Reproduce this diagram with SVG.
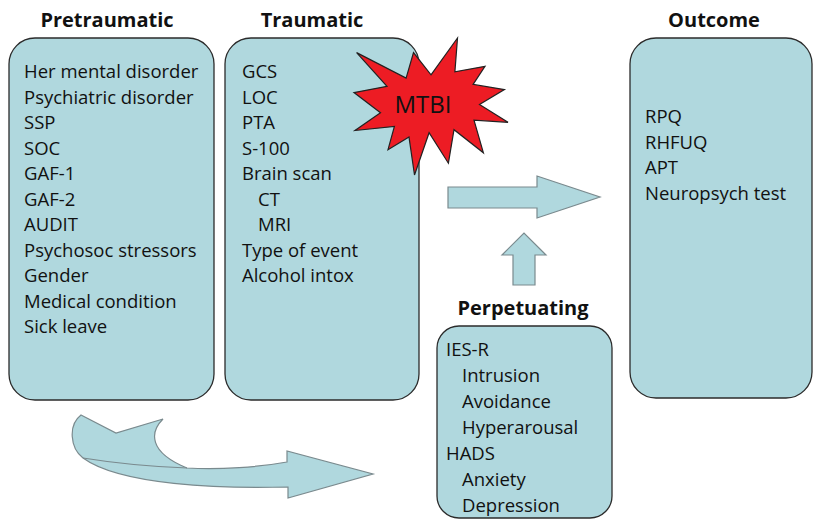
<svg xmlns="http://www.w3.org/2000/svg" width="815" height="519" viewBox="0 0 815 519">
<style>
.box{fill:#b0d8de;stroke:#2b2b2b;stroke-width:1.3}
.arrow{fill:#b0d8de;stroke:#7a8a8e;stroke-width:1.2;stroke-linejoin:miter}
.t{font-family:"Open Sans","Liberation Sans",sans-serif;font-size:18.5px;fill:#111}
.h{font-family:"Open Sans","Liberation Sans",sans-serif;font-size:20px;font-weight:bold;fill:#111;text-anchor:middle}
</style>
<rect width="815" height="519" fill="#fff"/>
<g id="pretraumatic">
<text class="h" x="107" y="27">Pretraumatic</text>
<rect class="box" x="9" y="38" width="205" height="362" rx="26"/>
<text class="t" x="24" y="78">Her mental disorder</text>
<text class="t" x="24" y="103.5">Psychiatric disorder</text>
<text class="t" x="24" y="129">SSP</text>
<text class="t" x="24" y="154.5">SOC</text>
<text class="t" x="24" y="180">GAF-1</text>
<text class="t" x="24" y="205.5">GAF-2</text>
<text class="t" x="24" y="231">AUDIT</text>
<text class="t" x="24" y="256.5">Psychosoc stressors</text>
<text class="t" x="24" y="282">Gender</text>
<text class="t" x="24" y="307.5">Medical condition</text>
<text class="t" x="24" y="333">Sick leave</text>
</g>
<g id="traumatic">
<text class="h" x="312" y="27">Traumatic</text>
<rect class="box" x="225" y="38" width="194" height="362" rx="26"/>
<text class="t" x="242" y="78">GCS</text>
<text class="t" x="242" y="103.5">LOC</text>
<text class="t" x="242" y="129">PTA</text>
<text class="t" x="242" y="154.5">S-100</text>
<text class="t" x="242" y="180">Brain scan</text>
<text class="t" x="258" y="205.5">CT</text>
<text class="t" x="258" y="231">MRI</text>
<text class="t" x="242" y="256.5">Type of event</text>
<text class="t" x="242" y="282">Alcohol intox</text>
</g>
<g id="mtbi">
<polygon points="431,74.8 457.5,38 454.9,71.8 485,66.3 473.1,84.4 504.4,89.6 479.5,104.4 508,122.3 474,120.1 483.4,152.8 454,129.7 448.4,163.2 429.1,132.7 414.5,175 409,137.1 388,149.7 394.4,126.4 355,130.5 380.5,112.7 354,92.6 387,86.3 356.6,52.6 406.1,78.1 413.5,52.6" fill="#ed1c24" stroke="#222" stroke-width="1.2" stroke-linejoin="miter"/>
<text x="423" y="113" font-family="'Open Sans','Liberation Sans',sans-serif" font-size="24" fill="#111" text-anchor="middle">MTBI</text>
</g>
<g id="outcome">
<text class="h" x="714" y="27">Outcome</text>
<rect class="box" x="630" y="38" width="182" height="360" rx="26"/>
<text class="t" x="645" y="123">RPQ</text>
<text class="t" x="645" y="148.5">RHFUQ</text>
<text class="t" x="645" y="174">APT</text>
<text class="t" x="645" y="199.5">Neuropsych test</text>
</g>
<g id="perpetuating">
<text class="h" x="523" y="315">Perpetuating</text>
<rect class="box" x="437" y="326" width="175" height="192" rx="22"/>
<text class="t" x="446" y="356">IES-R</text>
<text class="t" x="462" y="382">Intrusion</text>
<text class="t" x="462" y="408">Avoidance</text>
<text class="t" x="462" y="434">Hyperarousal</text>
<text class="t" x="446" y="460">HADS</text>
<text class="t" x="462" y="486">Anxiety</text>
<text class="t" x="462" y="512">Depression</text>
</g>
<g id="connectors">
<polygon class="arrow" points="448,187 537,187 537,176 600,197 537,218 537,208 448,208"/>
<polygon class="arrow" points="513,285 513,255 502,255 524,233 546,255 535,255 535,285"/>
<path class="arrow" d="M81,415 L116,433 L163,419 C150,432 148,452 187,468 C220,470 260,467 287,462 L287,451 L373,474 L288,498 L288,487 C220,489 120,485 83,458 C70,448 68,425 81,415 Z"/>
<path d="M83,458 C120,464 160,467 187,468" fill="none" stroke="#7a8a8e" stroke-width="1.2"/>
</g>
</svg>
